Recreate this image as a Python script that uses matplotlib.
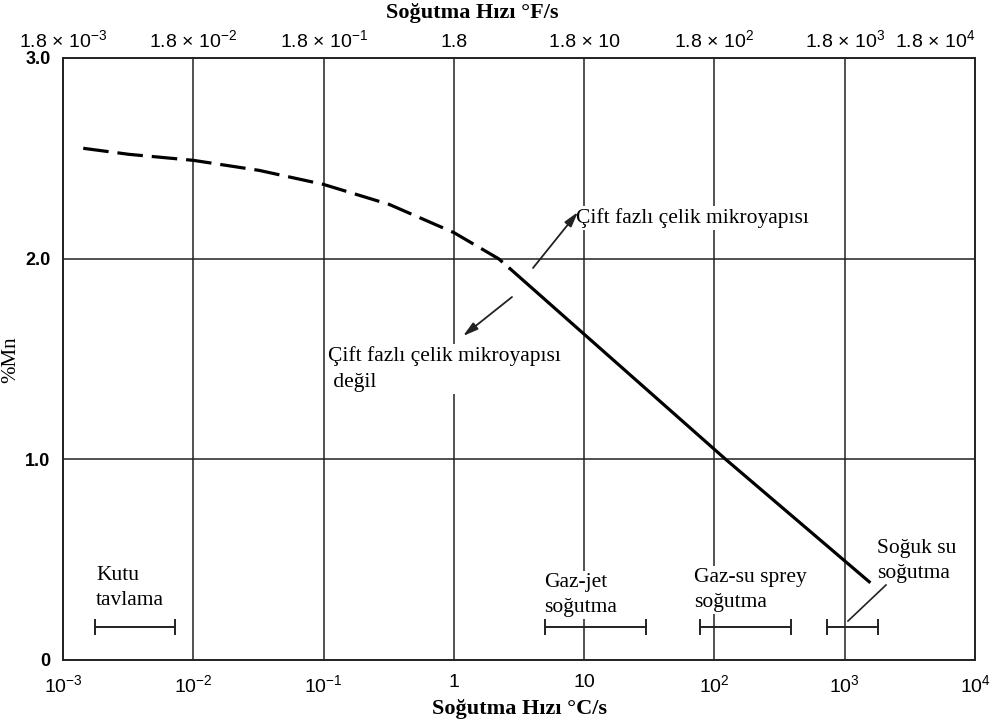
import matplotlib
matplotlib.use("Agg")
import matplotlib.pyplot as plt
import numpy as np

# ---- data ----
dash_x = [1.43e-3, 3.2e-3, 1e-2, 3.2e-2, 1e-1, 3.2e-1, 1.0, 2.2, 2.7]
dash_y = [2.55, 2.52, 2.49, 2.44, 2.37, 2.27, 2.13, 2.00, 1.95]
solid_x = [2.7, 122, 1540]
solid_y = [1.95, 1.00, 0.39]

ranges_lo = [1.75e-3, 5.0, 77, 730]
ranges_hi = [7.3e-3, 30, 390, 1800]
range_y = [0.165, 0.165, 0.165, 0.165]
range_labels = ["Kutu\ntavlama", "Gaz-jet\nsoğutma", "Gaz-su sprey\nsoğutma", "Soğuk su\nsoğutma"]

xticks = [1e-3, 1e-2, 1e-1, 1, 10, 1e2, 1e3, 1e4]
xtick_labels = ["$10^{-3}$", "$10^{-2}$", "$10^{-1}$", "1", "10", "$10^{2}$", "$10^{3}$", "$10^{4}$"]
top_labels = ["1.8 × 10$^{-3}$", "1.8 × 10$^{-2}$", "1.8 × 10$^{-1}$", "1.8",
              "1.8 × 10", "1.8 × 10$^{2}$", "1.8 × 10$^{3}$", "1.8 × 10$^{4}$"]
yticks = [0, 1.0, 2.0, 3.0]
ytick_labels = ["0", "1.0", "2.0", "3.0"]

plt.rcParams['mathtext.fontset'] = 'custom'
plt.rcParams['mathtext.rm'] = 'Liberation Sans'
plt.rcParams['mathtext.it'] = 'Liberation Sans'
plt.rcParams['font.family'] = ['Liberation Sans', 'DejaVu Sans']

fig = plt.figure(figsize=(9.94, 7.25), dpi=100)
L, R, T, B = 63, 975, 58, 660
ax = fig.add_axes([L / 994, 1 - B / 725, (R - L) / 994, (B - T) / 725])
ax.set_xscale('log')
ax.set_xlim(1e-3, 1e4)
ax.set_ylim(0, 3.0)

for s in ax.spines.values():
    s.set_linewidth(1.4)
    s.set_color('#222222')

ax.set_xticks(xticks)
ax.set_xticklabels(xtick_labels, fontsize=14)
ax.xaxis.set_minor_locator(matplotlib.ticker.NullLocator())
ax.set_yticks(yticks)
ax.set_yticklabels(ytick_labels, fontsize=13, fontweight='bold')
ax.tick_params(axis='x', length=0, pad=10)
ax.tick_params(axis='y', length=0, pad=9)
ax.grid(True, color='#222222', lw=1.1)
ax.set_axisbelow(True)

serif = 'Liberation Serif'
ax.set_xlabel("Soğutma Hızı °C/s", family=serif, fontweight='bold', fontsize=16, labelpad=2)
ax.set_ylabel("%Mn", family=serif, fontsize=15)


def fx(px):
    return (px - L) / (R - L)


def fy(py):
    return (B - py) / (B - T)


ax.yaxis.set_label_coords(fx(20), fy(360))

top = ax.twiny()
top.set_xscale('log')
top.set_xlim(ax.get_xlim())
top.set_xticks(xticks)
top.set_xticklabels(top_labels, fontsize=14)
top.xaxis.set_minor_locator(matplotlib.ticker.NullLocator())
top.tick_params(length=0, pad=5)
top.get_xticklabels()[-1].set_ha('right')
for s in top.spines.values():
    s.set_visible(False)
fig.text(472 / 994, 1 - 13 / 725, "Soğutma Hızı °F/s", family=serif, fontweight='bold',
         fontsize=16, ha='center', va='center')

# curve
ax.plot(dash_x, dash_y, color='black', lw=2.3, dashes=(8, 2.8), solid_capstyle='butt', zorder=4)
ax.plot(solid_x, solid_y, color='black', lw=2.3, zorder=4)

# ranges
for lo, hi, y in zip(ranges_lo, ranges_hi, range_y):
    ax.plot([lo, hi], [y, y], color='#222222', lw=1.4, zorder=4)
    ax.plot([lo, lo], [y - 0.035, y + 0.035], color='#222222', lw=1.4, zorder=4)
    ax.plot([hi, hi], [y - 0.035, y + 0.035], color='#222222', lw=1.4, zorder=4)

bb = dict(fc='white', ec='none', pad=1.5)
tk = dict(family=serif, fontsize=15.5, transform=ax.transAxes, va='center', ha='left',
          linespacing=1.45, zorder=5, bbox=bb)

ax.text(fx(576), fy(218), "Çift fazlı çelik mikroyapısı", **tk)
ax.text(fx(328), fy(369), "Çift fazlı çelik mikroyapısı\n değil", **tk)
label_pos = [(96, 588), (544, 595), (694, 590), (877, 561)]
for (px, py), lab in zip(label_pos, range_labels):
    ax.text(fx(px), fy(py), lab, **tk)

arrow = dict(arrowstyle='-|>,head_length=0.9,head_width=0.25', color='#222222', lw=1.3,
             shrinkA=0, shrinkB=0)
ax.annotate("", xy=(fx(578), fy(212)), xytext=(fx(533), fy(268)),
            xycoords='axes fraction', textcoords='axes fraction', arrowprops=arrow, zorder=6)
ax.annotate("", xy=(fx(463), fy(336)), xytext=(fx(512), fy(297)),
            xycoords='axes fraction', textcoords='axes fraction', arrowprops=arrow, zorder=6)
ax.plot([fx(848), fx(886)], [fy(621), fy(585)], color='#222222', lw=1.2,
        transform=ax.transAxes, zorder=6)

fig.savefig("out.png", dpi=100)
